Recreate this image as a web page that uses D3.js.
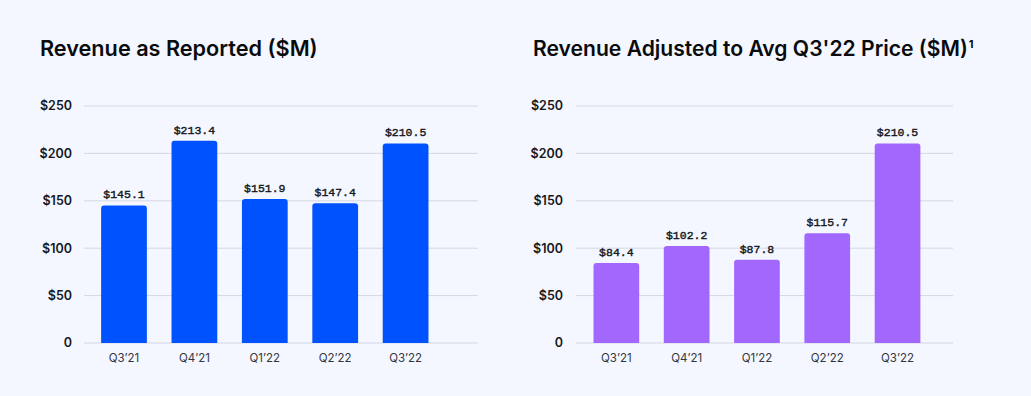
<!DOCTYPE html>
<html>
<head>
<meta charset="utf-8">
<script src="https://cdn.jsdelivr.net/npm/d3@7"></script>
<style>
  html, body { margin: 0; padding: 0; background: #f4f7ff; }
  svg { display: block; }
</style>
</head>
<body>
<svg id="chart" width="1031" height="396"></svg>
<script>
const categories = ["Q3\u201921", "Q4\u201921", "Q1\u201922", "Q2\u201922", "Q3\u201922"];
const reportedValues = [145.1, 213.4, 151.9, 147.4, 210.5];
const adjustedValues = [84.4, 102.2, 87.8, 115.7, 210.5];
const yTickValues = [0, 50, 100, 150, 200, 250];
const yTickLabels = ["0", "$50", "$100", "$150", "$200", "$250"];
const titleLeft = "Revenue as Reported ($M)";
const titleRight = "Revenue Adjusted to Avg Q3'22 Price ($M)";
const titleRightSup = "1";

const svg = d3.select("#chart");
svg.append("rect").attr("width", 1031).attr("height", 396).attr("fill", "#f4f7ff");

const y = d3.scaleLinear().domain([0, 250]).range([343, 106]);

function fitText(sel, targetWidth) {
  const w = sel.node().getComputedTextLength();
  const fs = parseFloat(sel.attr("font-size"));
  sel.attr("font-size", fs * targetWidth / w);
}

function roundedTopBar(x, yTop, w, yBase, r) {
  const h = yBase - yTop;
  r = Math.min(r, h, w / 2);
  return `M${x},${yBase}V${yTop + r}Q${x},${yTop} ${x + r},${yTop}H${x + w - r}Q${x + w},${yTop} ${x + w},${yTop + r}V${yBase}Z`;
}

function drawPanel(cfg) {
  const g = svg.append("g");
  g.selectAll("line.grid").data(yTickValues).enter().append("line")
    .attr("x1", cfg.gridX0).attr("x2", cfg.gridX1)
    .attr("y1", d => y(d)).attr("y2", d => y(d))
    .attr("stroke", "#d3d7e3").attr("stroke-width", 1);

  g.selectAll("text.ylab").data(yTickValues).enter().append("text")
    .attr("x", cfg.yLabelX).attr("y", d => y(d))
    .attr("dy", "0.35em").attr("text-anchor", "end")
    .attr("font-family", "Inter, 'Noto Sans', sans-serif")
    .attr("font-size", 12.5).attr("font-weight", 600).attr("fill", "#16181d")
    .text((d, i) => yTickLabels[i]);

  const x = d3.scaleBand().domain(categories).range(cfg.bandRange)
    .paddingInner(0.35).paddingOuter(0.175);

  g.selectAll("path.bar").data(cfg.values).enter().append("path")
    .attr("d", (d, i) => roundedTopBar(x(categories[i]), y(d), x.bandwidth(), y(0), 3))
    .attr("fill", cfg.color);

  g.selectAll("text.val").data(cfg.values).enter().append("text")
    .attr("x", (d, i) => x(categories[i]) + x.bandwidth() / 2)
    .attr("y", d => y(d) - 7)
    .attr("text-anchor", "middle")
    .attr("font-family", "'Liberation Mono', 'DejaVu Sans Mono', monospace")
    .attr("font-size", 11.5).attr("font-weight", 400).attr("fill", "#16181d")
    .attr("stroke", "#16181d").attr("stroke-width", 0.4)
    .text(d => "$" + d.toFixed(1));

  g.selectAll("text.xlab").data(categories).enter().append("text")
    .attr("x", d => x(d) + x.bandwidth() / 2)
    .attr("y", 362)
    .attr("text-anchor", "middle")
    .attr("font-family", "Inter, 'Noto Sans', sans-serif")
    .attr("font-size", 11.5).attr("fill", "#33363d")
    .text(d => d);

  const t = g.append("text")
    .attr("x", cfg.titleX).attr("y", 56)
    .attr("font-family", "Inter, 'Noto Sans', sans-serif")
    .attr("font-size", 22).attr("font-weight", 600).attr("fill", "#0a0b0d")
    .text(cfg.title);
  fitText(t, cfg.titleWidth);
  if (cfg.sup) {
    const w = t.node().getComputedTextLength();
    g.append("text")
      .attr("x", cfg.titleX + w + 1).attr("y", 48)
      .attr("font-family", "Inter, 'Noto Sans', sans-serif")
      .attr("font-size", 11).attr("font-weight", 700).attr("fill", "#0a0b0d")
      .text(cfg.sup);
  }
}

drawPanel({
  values: reportedValues, color: "#0052ff",
  gridX0: 84, gridX1: 478, yLabelX: 72,
  bandRange: [88.8, 440.8],
  title: titleLeft, titleX: 40, titleWidth: 278
});

drawPanel({
  values: adjustedValues, color: "#a267fd",
  gridX0: 576, gridX1: 953, yLabelX: 563,
  bandRange: [581.2, 932.7],
  title: titleRight, titleX: 533, titleWidth: 435, sup: titleRightSup
});
</script>
</body>
</html>
